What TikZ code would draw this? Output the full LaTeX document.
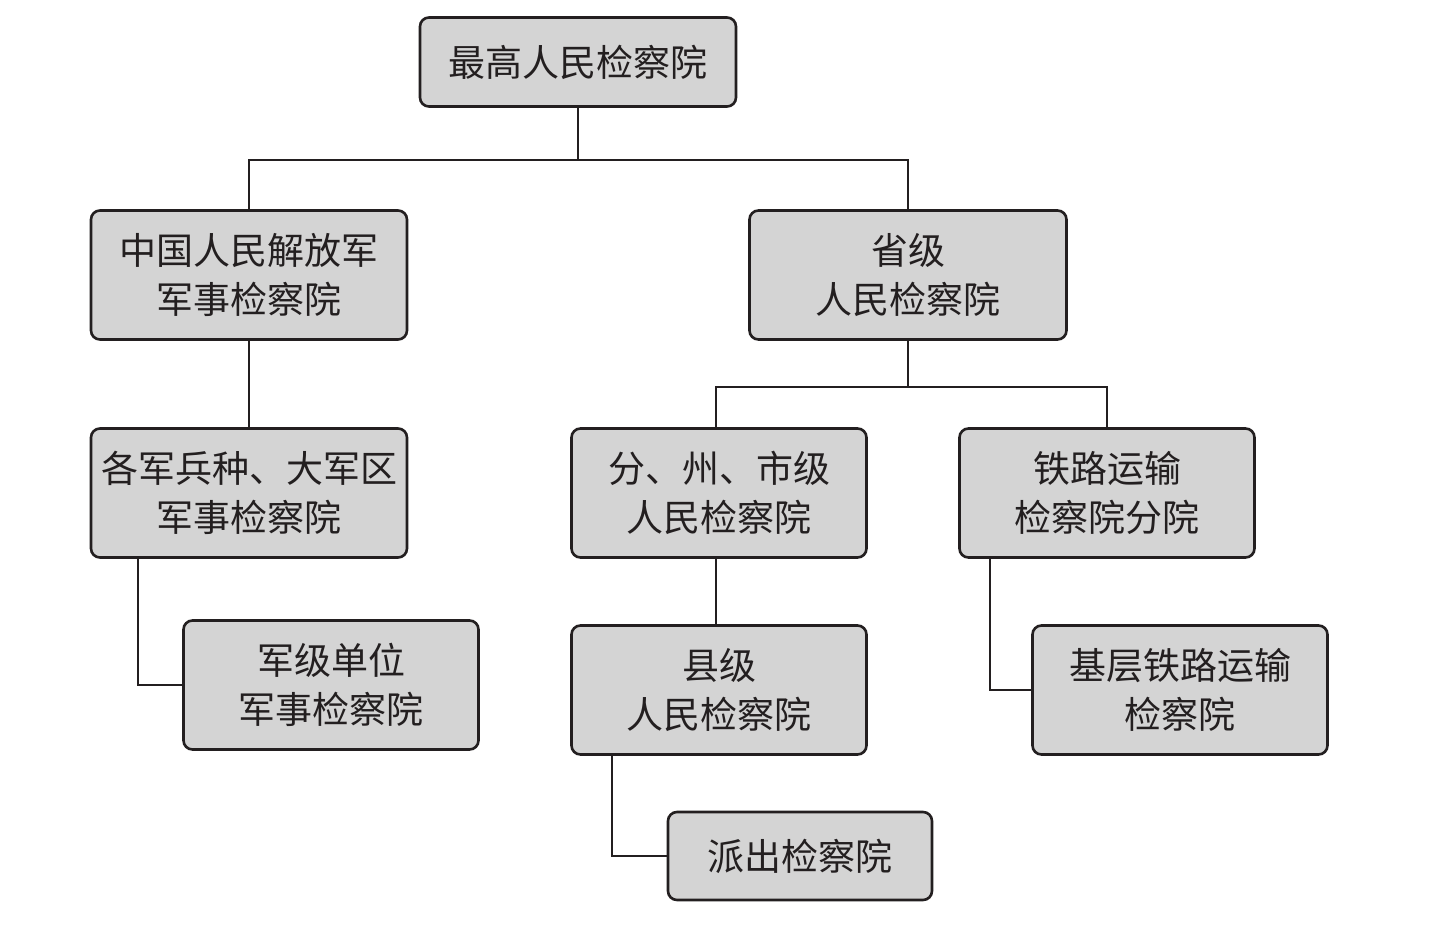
\documentclass[tikz,border=0pt]{standalone}
\usepackage{fontspec}
\newfontfamily\cjk{Noto Sans CJK SC}
\definecolor{boxfill}{HTML}{D4D4D4}
\definecolor{ink}{HTML}{231F20}
\begin{document}
\begin{tikzpicture}[x=1pt,y=-1pt,
  org/.style={draw=ink, line width=2.6pt, fill=boxfill, rounded corners=9pt,
    inner sep=0pt, align=center, text=ink,
    font=\cjk\fontsize{37}{49}\selectfont},
  link/.style={draw=ink, line width=1.8pt}]
\useasboundingbox (0,0) rectangle (1444,938);
\node[org, minimum width=316pt, minimum height=89pt] (top) at (578,62) {最高人民检察院};
\node[org, minimum width=316pt, minimum height=129pt] (b2) at (249,275) {中国人民解放军\\军事检察院};
\node[org, minimum width=317pt, minimum height=129pt] (b3) at (908,275) {省级\\人民检察院};
\node[org, minimum width=316pt, minimum height=129pt] (b4) at (249,493) {各军兵种、大军区\\军事检察院};
\node[org, minimum width=295pt, minimum height=129pt] (b5) at (719,493) {分、州、市级\\人民检察院};
\node[org, minimum width=295pt, minimum height=129pt] (b6) at (1107,493) {铁路运输\\检察院分院};
\node[org, minimum width=295pt, minimum height=129pt] (b7) at (331,685) {军级单位\\军事检察院};
\node[org, minimum width=295pt, minimum height=129pt] (b8) at (719,690) {县级\\人民检察院};
\node[org, minimum width=295pt, minimum height=129pt] (b9) at (1180,690) {基层铁路运输\\检察院};
\node[org, minimum width=264pt, minimum height=88pt] (b10) at (800,856) {派出检察院};
\coordinate (j1) at (578,160);
\coordinate (j2) at (908,387);
\draw[link] (top.south) -- (j1);
\draw[link] (b2.north) |- (j1) -| (b3.north);
\draw[link] (b2.south) -- (b4.north);
\draw[link] (b3.south) -- (j2);
\draw[link] ([xshift=-3pt]b5.north) |- (j2) -| (b6.north);
\draw[link] ([xshift=-111pt]b4.south) |- (b7.west);
\draw[link] ([xshift=-3pt]b5.south) -- ([xshift=-3pt]b8.north);
\draw[link] ([xshift=-117pt]b6.south) |- (b9.west);
\draw[link] ([xshift=-107pt]b8.south) |- (b10.west);
\end{tikzpicture}
\end{document}
